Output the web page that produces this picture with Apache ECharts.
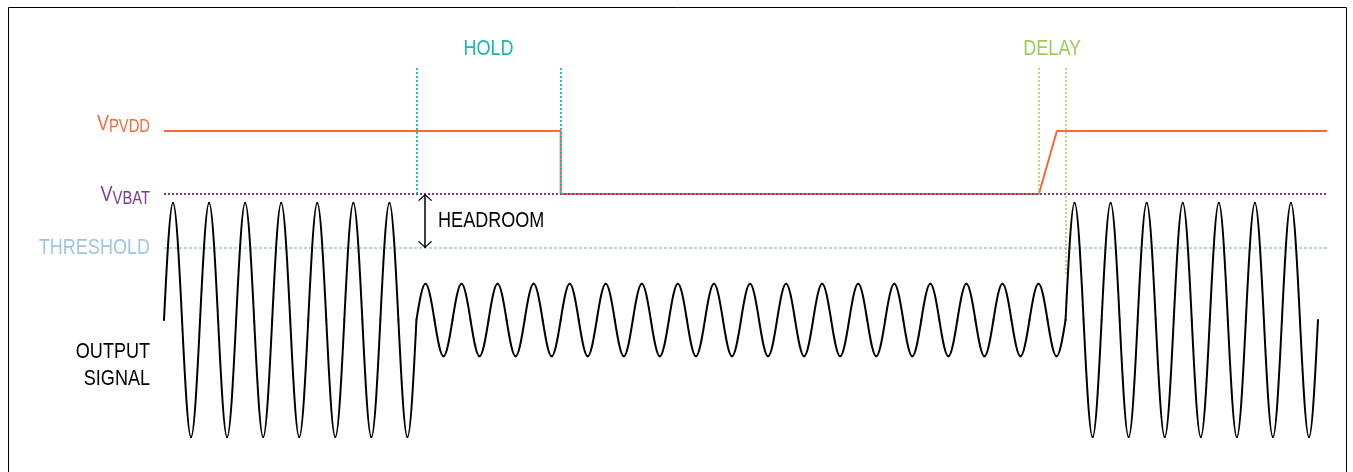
<!DOCTYPE html>
<html>
<head>
<meta charset="utf-8">
<title>Output signal headroom vs supply</title>
<script src="https://cdn.jsdelivr.net/npm/echarts@6/dist/echarts.min.js"></script>
<style>
  html, body { margin: 0; padding: 0; background: #fff; overflow: hidden; }
  #chart { width: 1353px; height: 472px; }
</style>
</head>
<body>
<div id="chart"></div>
<script>
// Time unit: one output-signal cycle. Level unit: full-swing signal amplitude.
const cyclePeaks = [1, 1, 1, 1, 1, 1, 1,
  0.31, 0.31, 0.31, 0.31, 0.31, 0.31, 0.31, 0.31, 0.31,
  0.31, 0.31, 0.31, 0.31, 0.31, 0.31, 0.31, 0.31, 0.31,
  1, 1, 1, 1, 1, 1, 1];
const cycleTroughs = [-1, -1, -1, -1, -1, -1, -1,
  -0.31, -0.31, -0.31, -0.31, -0.31, -0.31, -0.31, -0.31, -0.31,
  -0.31, -0.31, -0.31, -0.31, -0.31, -0.31, -0.31, -0.31, -0.31,
  -1, -1, -1, -1, -1, -1, -1];

const railNames = ['PVDD', 'VBAT', 'THRESHOLD'];
const railLevels = [1.615, 1.077, 0.615];
const railTagLevels = [1.675, 1.068, 0.618];

const pvddTimes = [0, 11, 11, 24.26, 24.76, 32.25];
const pvddValues = [1.615, 1.615, 1.077, 1.077, 1.615, 1.615];

const holdTimes = [7, 11];
const delayTimes = [24.26, 25];
const markerTop = 2.154;
const delayTailBottom = 0.385;
const phaseTagLevel = 2.316;

const headroomTime = 7.24;
const outputTagLevel = -0.385;
const timeEnd = 32.25;

const COLORS = {
  pvdd: '#F26B3A',
  vbat: '#7B3A92',
  threshold: '#9FC5E5',
  hold: '#17B7B0',
  delay: '#9BCB58',
  signal: '#000000'
};
const FONT_FAMILY = '"Liberation Sans", Arial, sans-serif';
const NARROW = 0.82; // condensed lettering

// Output signal: zero crossings, peaks and troughs of every cycle
const signalData = [];
cyclePeaks.forEach((peak, i) => {
  signalData.push([i, 0], [i + 0.25, peak], [i + 0.5, 0], [i + 0.75, cycleTroughs[i]]);
});
signalData.push([cyclePeaks.length, 0]);

const pvddData = pvddTimes.map((t, i) => [t, pvddValues[i]]);

function vSegment(t, y0, y1, lineStyle) {
  return [{ coord: [t, y0], lineStyle: lineStyle }, { coord: [t, y1] }];
}

// Quarter-sine segment between a zero crossing and an extremum (or back)
function renderSignal(params, api) {
  const i = params.dataIndex;
  if (i >= signalData.length - 1) return null;
  const p0 = api.coord(signalData[i]);
  const p1 = api.coord(signalData[i + 1]);
  const dx = p1[0] - p0[0];
  const dy = p1[1] - p0[1];
  const k = Math.PI / 6;
  const fromCrossing = i % 2 === 0;
  const c1 = fromCrossing ? [p0[0] + dx / 3, p0[1] + dy * k] : [p0[0] + dx / 3, p0[1]];
  const c2 = fromCrossing ? [p1[0] - dx / 3, p1[1]] : [p1[0] - dx / 3, p1[1] - dy * k];
  return {
    type: 'bezierCurve',
    shape: {
      x1: p0[0], y1: p0[1], cpx1: c1[0], cpy1: c1[1],
      cpx2: c2[0], cpy2: c2[1], x2: p1[0], y2: p1[1]
    },
    style: { stroke: COLORS.signal, lineWidth: 2, fill: null, lineCap: 'round' },
    silent: true
  };
}

const chevron = 'path://M10,0L10.05,0L10,0.05Z M10,10 L20,19 L18.6,20 L10,12.2 L1.4,20 L0,19 Z';

const chart = echarts.init(document.getElementById('chart'), null, { renderer: 'canvas' });

chart.setOption({
  animation: false,
  backgroundColor: '#ffffff',
  title: { show: false },
  legend: { show: false },
  tooltip: { show: false },
  grid: { left: 164, right: 26, top: 39.2, bottom: 11.6 },
  xAxis: { type: 'value', min: 0, max: timeEnd, show: false },
  yAxis: { type: 'value', min: -1.2, max: 2.4, show: false },
  series: [
    {
      name: 'THRESHOLD',
      type: 'line',
      data: [[0, railLevels[2]], [timeEnd, railLevels[2]]],
      symbol: 'none',
      silent: true,
      lineStyle: { color: COLORS.threshold, width: 1.5, type: [3, 2] },
      z: 1,
      markLine: {
        silent: true,
        symbol: [chevron, chevron],
        symbolSize: [14, 14],
        label: { show: false },
        lineStyle: { color: '#000', width: 1.5, type: 'solid' },
        itemStyle: { color: '#000' },
        data: [vSegment(headroomTime, railLevels[1], railLevels[2])]
      }
    },
    {
      name: 'OUTPUT SIGNAL',
      type: 'custom',
      data: signalData,
      encode: { x: 0, y: 1 },
      renderItem: renderSignal,
      silent: true,
      z: 2
    },
    {
      name: 'PVDD',
      type: 'line',
      data: pvddData,
      symbol: 'none',
      silent: true,
      lineStyle: { color: COLORS.pvdd, width: 2 },
      z: 3
    },
    {
      name: 'VBAT',
      type: 'line',
      data: [[0, railLevels[1]], [timeEnd, railLevels[1]]],
      symbol: 'none',
      silent: true,
      lineStyle: { color: COLORS.vbat, width: 2, type: [2, 2] },
      z: 4,
      markLine: {
        silent: true,
        symbol: 'none',
        label: { show: false },
        data: [
          vSegment(holdTimes[0], markerTop, railLevels[1], { color: COLORS.hold, width: 1.8, type: [2, 2] }),
          vSegment(holdTimes[1], markerTop, railLevels[1], { color: COLORS.hold, width: 1.8, type: [2, 2] }),
          vSegment(delayTimes[0], markerTop, railLevels[1], { color: COLORS.delay, width: 1.5, type: [2, 2] }),
          vSegment(delayTimes[1], markerTop, delayTailBottom, { color: COLORS.delay, width: 1.5, type: [2, 2] })
        ]
      }
    }
  ]
});

// Text annotations, anchored through the chart's own scales
const at = (t, y) => chart.convertToPixel({ gridIndex: 0 }, [t, y]);

function tag(point, text, fill, align, extra) {
  const style = Object.assign({
    text: text,
    fill: fill,
    font: '22px ' + FONT_FAMILY,
    align: align, textAlign: align,
    verticalAlign: 'middle', textVerticalAlign: 'middle'
  }, extra || {});
  return {
    type: 'text', x: point[0], y: point[1],
    scaleX: NARROW, scaleY: 1, originX: 0, originY: 0,
    silent: true, z: 20, style: style
  };
}

const leftGap = 14;
const shiftX = (p, d) => [p[0] + d, p[1]];

function railTag(index, color) {
  return tag(shiftX(at(0, railTagLevels[index]), -leftGap), '{v|V}{s|' + railNames[index] + '}', color, 'right', {
    rich: {
      v: { fontSize: 22, lineHeight: 22, verticalAlign: 'top', fill: color, fontFamily: FONT_FAMILY },
      s: { fontSize: 18, lineHeight: 16, padding: [7, 0, 0, 0], fill: color, fontFamily: FONT_FAMILY }
    }
  });
}

chart.setOption({
  graphic: [
    {
      type: 'rect',
      shape: { x: 8.5, y: 7.5, width: 1338, height: 520 },
      style: { fill: 'none', stroke: '#000', lineWidth: 1 },
      silent: true, z: -10
    },
    railTag(0, COLORS.pvdd),
    railTag(1, COLORS.vbat),
    tag(shiftX(at(0, railTagLevels[2]), -leftGap), railNames[2], COLORS.threshold, 'right'),
    tag(shiftX(at(0, outputTagLevel), -leftGap), 'OUTPUT\nSIGNAL', '#000', 'right', { lineHeight: 27 }),
    tag(at((holdTimes[0] + holdTimes[1]) / 2, phaseTagLevel), 'HOLD', COLORS.hold, 'center'),
    tag(at((delayTimes[0] + delayTimes[1]) / 2, phaseTagLevel), 'DELAY', COLORS.delay, 'center'),
    tag(shiftX(at(headroomTime, (railLevels[1] + railLevels[2]) / 2), 13), 'HEADROOM', '#000', 'left')
  ]
});
</script>
</body>
</html>
